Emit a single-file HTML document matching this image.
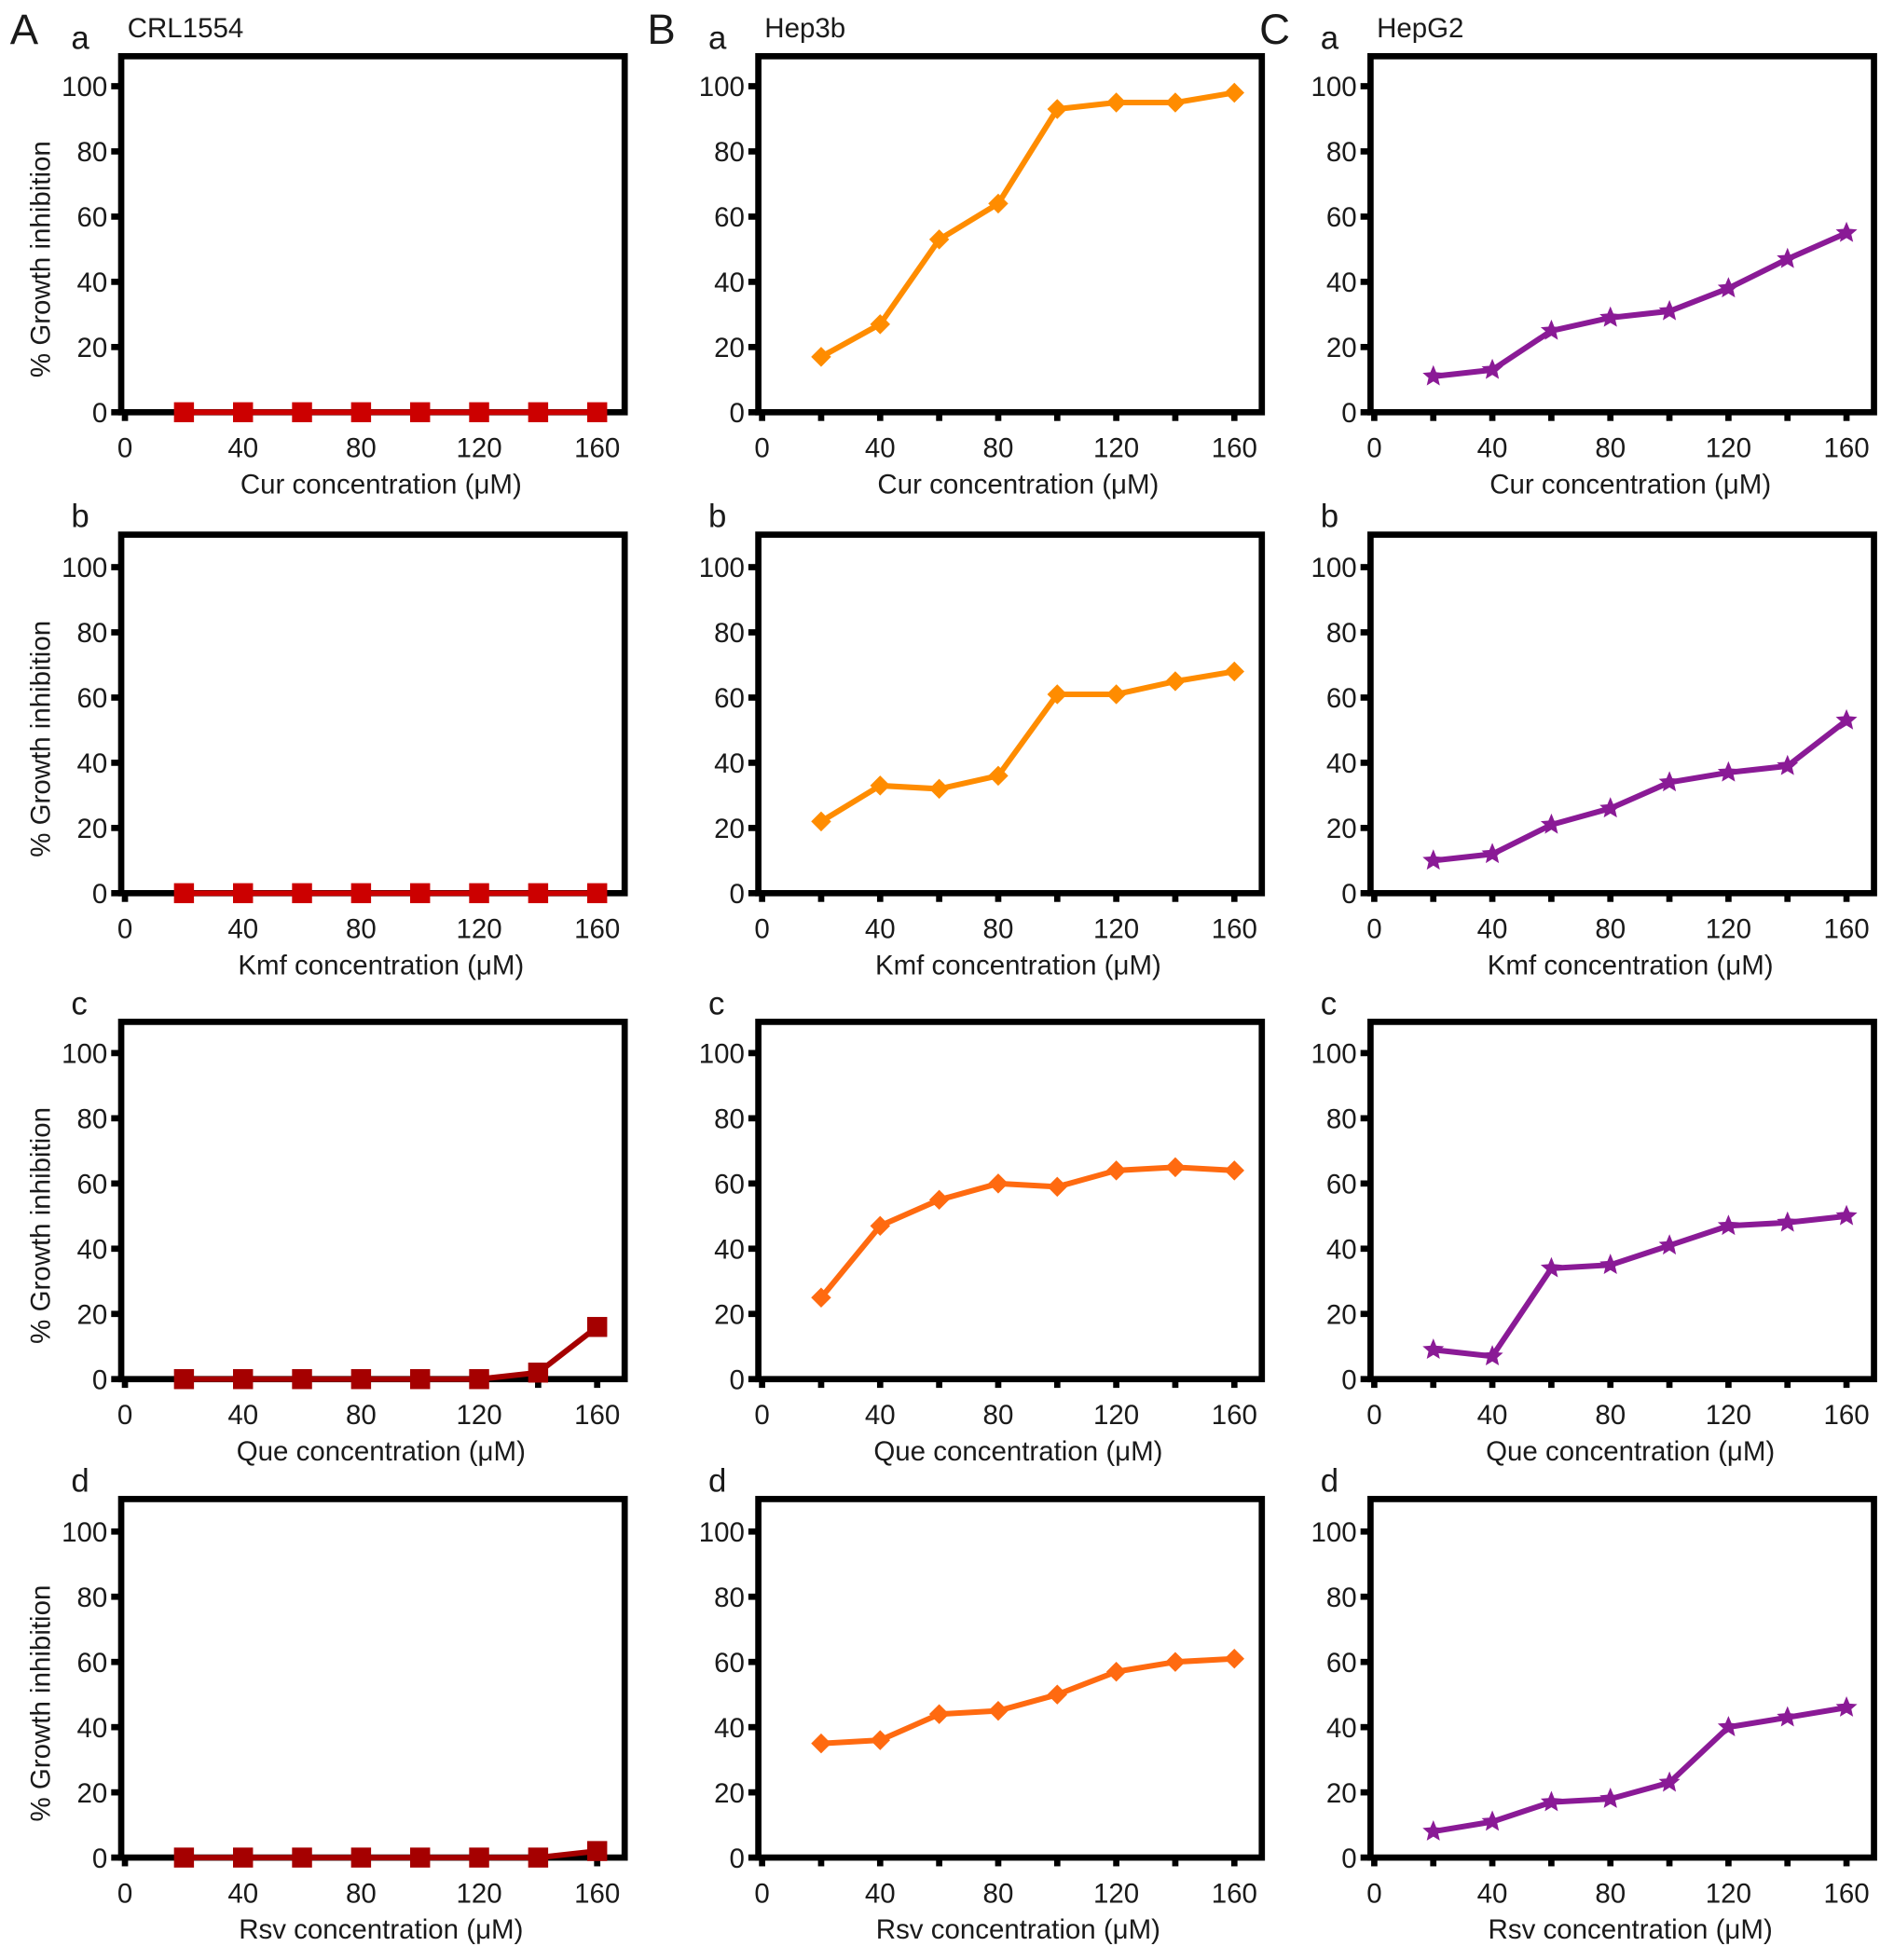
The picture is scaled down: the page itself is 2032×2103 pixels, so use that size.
<!DOCTYPE html>
<html><head><meta charset="utf-8"><style>
html,body{margin:0;padding:0;background:#fff}
svg{display:block}
text{font-family:"Liberation Sans",Arial,sans-serif;fill:#1a1a1a}
</style></head><body>
<svg id="fig" width="2032" height="2103" viewBox="0 0 1516 1569" xmlns="http://www.w3.org/2000/svg"></svg>
<script>
const concentrations = [20, 40, 60, 80, 100, 120, 140, 160];
const xTicks = [0, 20, 40, 60, 80, 100, 120, 140, 160];
const xTickLabels = ["0", "", "40", "", "80", "", "120", "", "160"];
const yTicks = [0, 20, 40, 60, 80, 100];
const drugs = ["Cur", "Kmf", "Que", "Rsv"];
const rowLetters = ["a", "b", "c", "d"];
const cellLines = ["CRL1554", "Hep3b", "HepG2"];
const colLetters = ["A", "B", "C"];
const crlValues = [
  [0,0,0,0,0,0,0,0],
  [0,0,0,0,0,0,0,0],
  [0,0,0,0,0,0,2,16],
  [0,0,0,0,0,0,0,2]
];
const hep3bValues = [
  [17,27,53,64,93,95,95,98],
  [22,33,32,36,61,61,65,68],
  [25,47,55,60,59,64,65,64],
  [35,36,44,45,50,57,60,61]
];
const hepg2Values = [
  [11,13,25,29,31,38,47,55],
  [10,12,21,26,34,37,39,53],
  [9,7,34,35,41,47,48,50],
  [8,11,17,18,23,40,43,46]
];
const allValues = [crlValues, hep3bValues, hepg2Values];

const NS = "http://www.w3.org/2000/svg";
const svg = document.getElementById("fig");
function mk(tag, attrs, parent){
  const e = document.createElementNS(NS, tag);
  for (const k in attrs) e.setAttribute(k, attrs[k]);
  (parent||svg).appendChild(e);
  return e;
}
const colLeft = [97, 607, 1097];
const rowTop = [45, 428, 818, 1200];
const rowBottom = [330, 715, 1104, 1487];
const lineColors = [["#cc0000","#cc0000","#a50000","#a50000"],["#ff8c00","#ff8c00","#ff6a10","#ff6a10"],["#8a1a96","#8a1a96","#8a1a96","#8a1a96"]];

function starPts(cx, cy, r){
  let p=[];
  for(let i=0;i<10;i++){
    const a = -Math.PI/2 + i*Math.PI/5;
    const rr = i%2===0 ? r : r*0.45;
    p.push((cx+rr*Math.cos(a)).toFixed(1)+","+(cy+rr*Math.sin(a)).toFixed(1));
  }
  return p.join(" ");
}

for (let c=0;c<3;c++){
  const L = colLeft[c];
  const hdr = mk("text",{x:L-89,y:35,"font-size":34});
  
  
  hdr.textContent = colLetters[c];
  const ttl = mk("text",{x:L+5,y:30,"font-size":22});
  
  
  ttl.textContent = cellLines[c];
  for (let r=0;r<4;r++){
    const T = rowTop[r], B = rowBottom[r];
    const xS = v => L + 3 + v*(378/160);
    const yS = v => B - v*2.61;
    const g = mk("g",{});
    
    
    const sl = mk("text",{x:L-40,y:T-6,"font-size":26},g);
    
    
    sl.textContent = rowLetters[r];
    const fr = mk("rect",{x:L,y:T,width:403,height:B-T,fill:"none",stroke:"#000","stroke-width":5},g);
    
    
    yTicks.forEach(t=>{
      const tk = mk("line",{x1:L-8,x2:L,y1:yS(t),y2:yS(t),stroke:"#000","stroke-width":5},g);
      
      
      const tl = mk("text",{x:L-11,y:yS(t)+8,"font-size":22,"text-anchor":"end"},g);
      
      
      tl.textContent = t;
    });
    xTicks.forEach((t,i)=>{
      const tk = mk("line",{x1:xS(t),x2:xS(t),y1:B,y2:B+7,stroke:"#000","stroke-width":5},g);
      
      
      if (xTickLabels[i]){
        const tl = mk("text",{x:xS(t),y:B+36,"font-size":22,"text-anchor":"middle"},g);
        
        
        tl.textContent = xTickLabels[i];
      }
    });
    const xt = mk("text",{x:L+208,y:B+65,"font-size":22,"text-anchor":"middle"},g);
    
    
    xt.textContent = drugs[r]+" concentration (\u03bcM)";
    if (c===0){
      const cy = (T+B)/2 + 20;
      const yt = mk("text",{x:40,y:cy,"font-size":22,"text-anchor":"middle",transform:"rotate(-90 40 "+cy+")"},g);
      
      
      yt.textContent = "% Growth inhibition";
    }
    const vals = allValues[c][r];
    const col = lineColors[c][r];
    const pts = concentrations.map((x,i)=>xS(x).toFixed(1)+","+yS(vals[i]).toFixed(1)).join(" ");
    const ln = mk("polyline",{points:pts,fill:"none",stroke:col,"stroke-width":4.5,"stroke-linejoin":"round"},g);
    
    
    concentrations.forEach((x,i)=>{
      const px = xS(x), py = yS(vals[i]);
      let m;
      if (c===0) m = mk("rect",{x:px-8,y:py-8,width:16,height:16,fill:col},g);
      else if (c===1) m = mk("polygon",{points:`${px},${py-8} ${px+8},${py} ${px},${py+8} ${px-8},${py}`,fill:col},g);
      else m = mk("polygon",{points:starPts(px,py,9),fill:col},g);
      
      
    });
  }
}
</script>
</body></html>
